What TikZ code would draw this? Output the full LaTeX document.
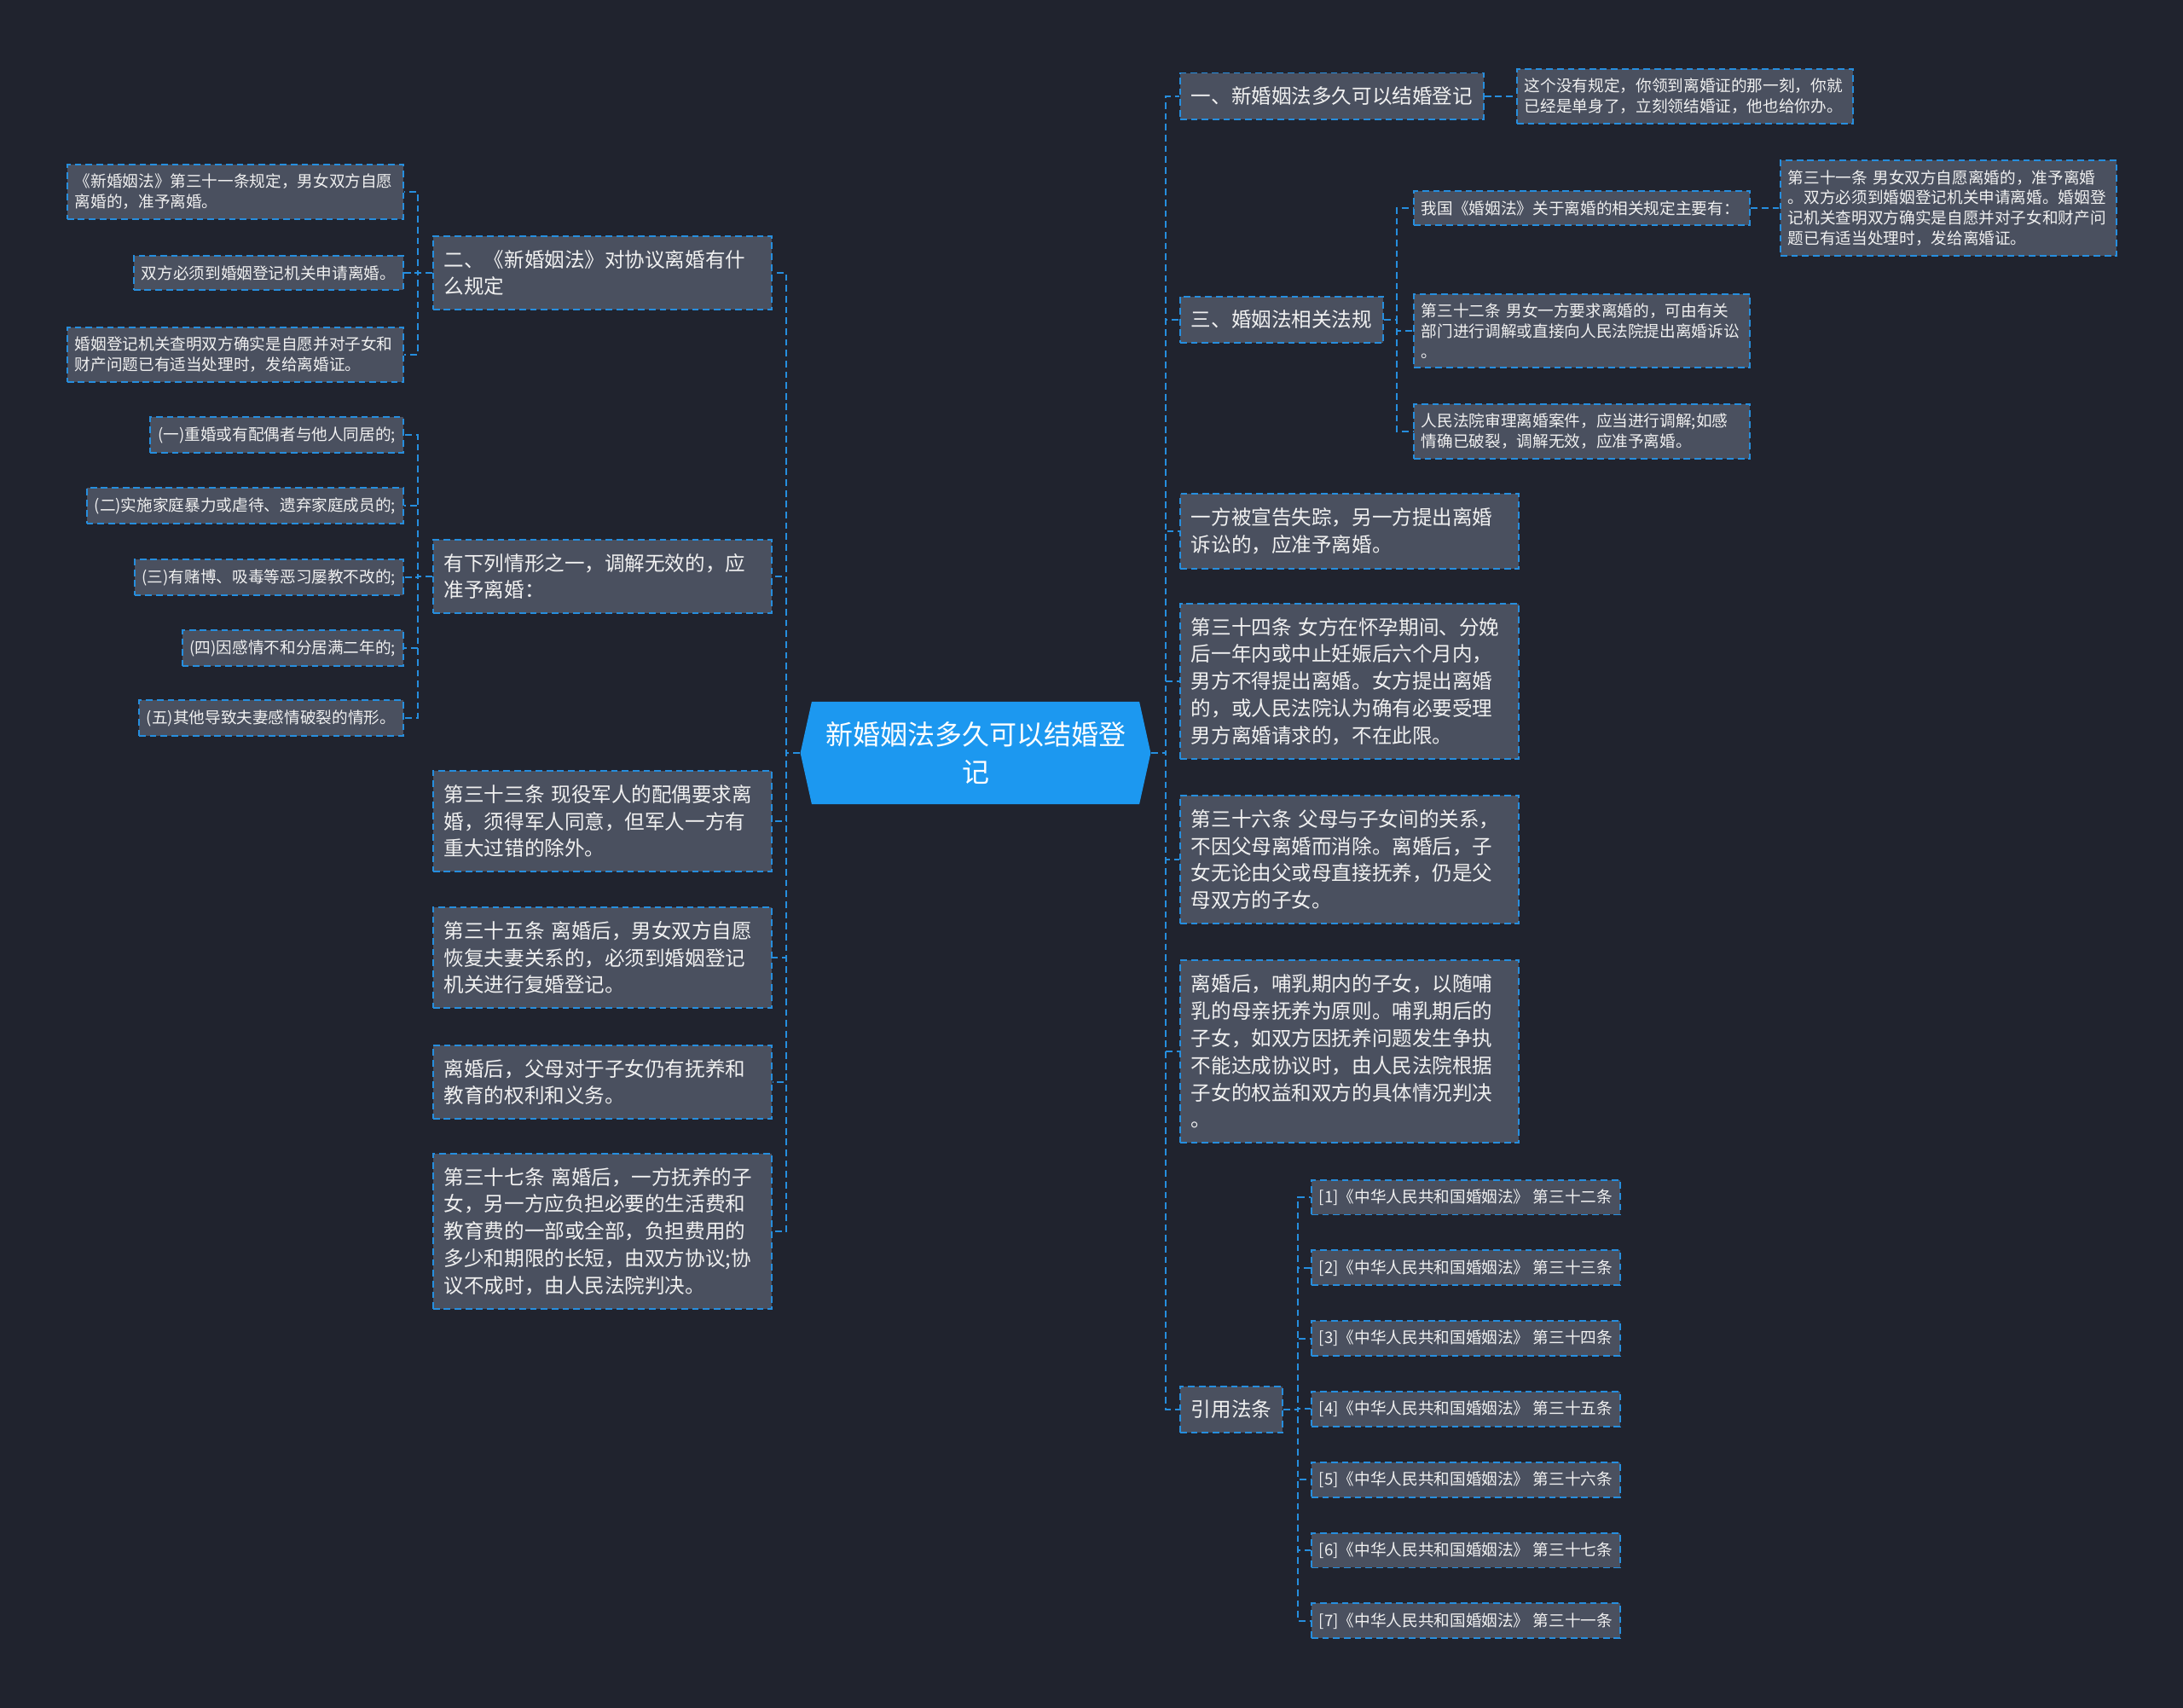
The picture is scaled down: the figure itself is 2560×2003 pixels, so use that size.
\documentclass[tikz,border=0pt]{standalone}
\usepackage{fontspec}
\setmainfont{Noto Sans CJK SC}
\usepackage{tikz}
\usetikzlibrary{shapes.symbols}
\definecolor{bgnavy}{RGB}{32,35,46}
\definecolor{boxgrey}{RGB}{74,80,95}
\definecolor{linkblue}{RGB}{38,142,222}
\definecolor{centreblue}{RGB}{28,152,240}
\definecolor{paletext}{RGB}{240,240,240}

\begin{document}
\begin{tikzpicture}[x=0.01cm, y=-0.01cm,
    topic/.style={draw=linkblue, fill=boxgrey, line width=0.55pt, dash pattern=on 2.2pt off 1.4pt,
      text=paletext, inner xsep=0.13cm, inner ysep=0.165cm, align=left,
      font=\fontsize{6.7}{9.05}\selectfont},
    wide/.style={topic, text width=3.71cm},
    leaf/.style={topic, inner xsep=0.09cm, inner ysep=0.11cm, font=\fontsize{5.3}{6.8}\selectfont},
    leafwide/.style={leaf, text width=3.76cm},
    link/.style={draw=linkblue, line width=0.55pt, dash pattern=on 2.2pt off 1.4pt},
    centre/.style={shape=signal, signal to=west and east, signal pointer angle=155,
      fill=centreblue, text=white, align=center, text width=3.6cm, inner xsep=0.12cm,
      minimum height=1.2cm, font=\fontsize{9.1}{12.5}\selectfont}]
    \fill[bgnavy] (0,0) rectangle (2560,2003);
    % root
    \node[centre] (c) at (1144,883) {新婚姻法多久可以结婚登\\记};
    % right branch
    \node[topic, anchor=west] (r1) at (1383,113) {一、新婚姻法多久可以结婚登记};
    \node[leafwide, anchor=west] (r1a) at (1778,113) {这个没有规定，你领到离婚证的那一刻，你就\\已经是单身了，立刻领结婚证，他也给你办。};
    \node[topic, anchor=west] (r3) at (1383,375) {三、婚姻法相关法规};
    \node[leafwide, anchor=west] (r3a) at (1657,244) {我国《婚姻法》关于离婚的相关规定主要有：};
    \node[leafwide, anchor=west] (r3a1) at (2087,244) {第三十一条 男女双方自愿离婚的，准予离婚\\。双方必须到婚姻登记机关申请离婚。婚姻登\\记机关查明双方确实是自愿并对子女和财产问\\题已有适当处理时，发给离婚证。};
    \node[leafwide, anchor=west] (r3b) at (1657,388) {第三十二条 男女一方要求离婚的，可由有关\\部门进行调解或直接向人民法院提出离婚诉讼\\。};
    \node[leafwide, anchor=west] (r3c) at (1657,506) {人民法院审理离婚案件，应当进行调解;如感\\情确已破裂，调解无效，应准予离婚。};
    \node[wide, anchor=west] (r4) at (1383,623) {一方被宣告失踪，另一方提出离婚\\诉讼的，应准予离婚。};
    \node[wide, anchor=west] (r5) at (1383,799) {第三十四条 女方在怀孕期间、分娩\\后一年内或中止妊娠后六个月内，\\男方不得提出离婚。女方提出离婚\\的，或人民法院认为确有必要受理\\男方离婚请求的，不在此限。};
    \node[wide, anchor=west] (r6) at (1383,1008) {第三十六条 父母与子女间的关系，\\不因父母离婚而消除。离婚后，子\\女无论由父或母直接抚养，仍是父\\母双方的子女。};
    \node[wide, anchor=west] (r7) at (1383,1233) {离婚后，哺乳期内的子女，以随哺\\乳的母亲抚养为原则。哺乳期后的\\子女，如双方因抚养问题发生争执\\不能达成协议时，由人民法院根据\\子女的权益和双方的具体情况判决\\。};
    \node[topic, anchor=west] (r8) at (1383,1653) {引用法条};
    \foreach \i/\n in {1/二,2/三,3/四,4/五,5/六,6/七,7/一}
      \node[leaf, anchor=west] (k\i) at (1537,{1404+82.8*(\i-1)}) {[\i]《中华人民共和国婚姻法》 第三十{\n}条};
    % left branch
    \node[wide, anchor=east] (l2) at (906,320) {二、《新婚姻法》对协议离婚有什\\么规定};
    \node[leafwide, anchor=east] (l2a) at (474,225) {《新婚姻法》第三十一条规定，男女双方自愿\\离婚的，准予离婚。};
    \node[leaf, anchor=east] (l2b) at (474,320) {双方必须到婚姻登记机关申请离婚。};
    \node[leafwide, anchor=east] (l2c) at (474,416) {婚姻登记机关查明双方确实是自愿并对子女和\\财产问题已有适当处理时，发给离婚证。};
    \node[wide, anchor=east] (l3) at (906,676) {有下列情形之一，调解无效的，应\\准予离婚：};
    \node[leaf, anchor=east] (l3a) at (474,510) {(一)重婚或有配偶者与他人同居的;};
    \node[leaf, anchor=east] (l3b) at (474,593) {(二)实施家庭暴力或虐待、遗弃家庭成员的;};
    \node[leaf, anchor=east] (l3c) at (474,677) {(三)有赌博、吸毒等恶习屡教不改的;};
    \node[leaf, anchor=east] (l3d) at (474,760) {(四)因感情不和分居满二年的;};
    \node[leaf, anchor=east] (l3e) at (474,842) {(五)其他导致夫妻感情破裂的情形。};
    \node[wide, anchor=east] (l4) at (906,963) {第三十三条 现役军人的配偶要求离\\婚，须得军人同意，但军人一方有\\重大过错的除外。};
    \node[wide, anchor=east] (l5) at (906,1123) {第三十五条 离婚后，男女双方自愿\\恢复夫妻关系的，必须到婚姻登记\\机关进行复婚登记。};
    \node[wide, anchor=east] (l6) at (906,1269) {离婚后，父母对于子女仍有抚养和\\教育的权利和义务。};
    \node[wide, anchor=east] (l7) at (906,1444) {第三十七条 离婚后，一方抚养的子\\女，另一方应负担必要的生活费和\\教育费的一部或全部，负担费用的\\多少和期限的长短，由双方协议;协\\议不成时，由人民法院判决。};
    % connectors
    \foreach \k in {r1,r3,r4,r5,r6,r7,r8}
      \draw[link] (c.east) -- ++(17,0) |- (\k.west);
    \foreach \k in {l2,l3,l4,l5,l6,l7}
      \draw[link] (c.west) -- ++(-16,0) |- (\k.east);
    \draw[link] (r1.east) -- (r1a.west);
    \foreach \k in {r3a,r3b,r3c}
      \draw[link] (r3.east) -- ++(15,0) |- (\k.west);
    \draw[link] (r3a.east) -- (r3a1.west);
    \foreach \i in {1,...,7}
      \draw[link] (r8.east) -- ++(17,0) |- (k\i.west);
    \foreach \k in {l2a,l2b,l2c}
      \draw[link] (l2.west) -- ++(-17,0) |- (\k.east);
    \foreach \k in {l3a,l3b,l3c,l3d,l3e}
      \draw[link] (l3.west) -- ++(-17,0) |- (\k.east);
\end{tikzpicture}
\end{document}
